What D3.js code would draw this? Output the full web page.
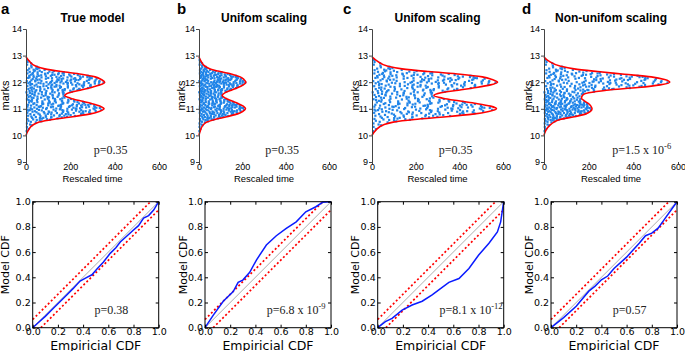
<!DOCTYPE html>
<html>
<head>
<meta charset="utf-8">
<script src="https://cdn.jsdelivr.net/npm/d3@7"></script>
<style>
  body { margin: 0; background: #fff; }
  svg { display: block; }
</style>
</head>
<body>
<div id="chart"></div>
<script>
const W = 685, H = 351;

// ---- data ----
const panelLetters = ["a", "b", "c", "d"];
const panelTitles = ["True model", "Unifom scaling", "Unifom scaling", "Non-unifom scaling"];

const markTicks = [9, 10, 11, 12, 13, 14];
const timeTicks = [0, 200, 400, 600];
const cdfTicks = [0, 0.2, 0.4, 0.6, 0.8, 1.0];

// envelope of the mark intensity (rescaled time) read at these marks
const envMarks = [10.0, 10.2, 10.4, 10.5, 10.6, 10.7, 10.8, 10.9, 11.0, 11.1, 11.2, 11.3, 11.4, 11.5,
  11.6, 11.7, 11.8, 11.9, 12.0, 12.1, 12.2, 12.3, 12.4, 12.5, 12.6, 12.8, 12.95];
const envTrue = [0, 11, 33, 60, 120, 210, 285, 330, 352, 335, 295, 245, 200, 175,
  195, 245, 295, 335, 355, 340, 312, 250, 160, 85, 45, 14, 0];
const envNonUniform = [0, 9, 28, 45, 72, 135, 185, 208, 215, 210, 198, 180, 168, 172,
  200, 280, 420, 520, 563, 540, 480, 360, 240, 135, 75, 20, 0];
// uniform scaling factors of panels b and c
const uniformScale = [1, 0.61, 1.62];

// events: mark (x100) : share of the envelope width (x100)
const eventData = `
1016:35 1024:71 1032:18 1038:84 1041:52 1045:09 1049:77
1051:33 1053:88 1055:12 1057:61 1058:45 1059:94
1060:27 1061:73 1062:05 1063:49 1064:91 1065:38 1066:16 1067:62 1068:84 1069:22 1069:57
1070:43 1070:88 1071:11 1072:67 1072:29 1073:95 1074:04 1075:51 1075:36 1076:79 1077:14 1077:58 1078:92 1078:23 1079:69 1079:41
1080:07 1080:63 1081:34 1081:86 1082:19 1082:55 1083:97 1083:28 1084:71 1084:46 1085:02 1085:83 1086:37 1086:61 1087:15 1087:90 1088:52 1088:25 1089:74 1089:09
1090:31 1090:78 1091:56 1091:12 1092:94 1092:40 1093:67 1093:03 1094:85 1094:21 1095:48 1095:73 1096:17 1096:99 1097:36 1097:60 1098:08 1098:89 1098:44 1099:26 1099:65 1091:81 1095:05
1100:53 1100:14 1101:87 1101:39 1102:70 1102:06 1103:45 1103:96 1104:22 1104:62 1105:11 1105:79 1106:33 1106:91 1107:57 1107:18 1108:84 1108:02 1109:47 1109:68 1103:27 1106:74 1108:36
1110:59 1110:20 1111:93 1111:44 1112:07 1112:76 1113:31 1113:64 1114:15 1114:88 1115:50 1115:03 1116:82 1116:37 1117:24 1117:69 1118:96 1118:11 1119:55 1119:41 1114:72
1120:34 1120:81 1121:13 1121:58 1122:92 1122:26 1123:67 1124:05 1124:49 1125:86 1125:19 1126:40 1126:97 1127:10 1127:63 1128:29 1128:75 1129:52
1130:08 1130:66 1131:43 1131:90 1132:21 1133:57 1134:84 1134:12 1135:38 1136:71 1136:02 1137:95 1138:47 1138:25 1139:80
1140:61 1141:17 1142:89 1142:35 1143:54 1144:06 1145:76 1146:28 1147:93 1148:44 1148:11 1149:68
1150:22 1151:83 1151:50 1152:04 1153:66 1154:39 1155:91 1156:15 1157:58 1157:30 1158:78 1159:09
1160:46 1160:87 1161:20 1162:63 1162:01 1163:34 1164:96 1164:55 1165:13 1166:74 1167:40 1167:07 1168:85 1168:27 1169:60
1170:19 1170:71 1171:48 1171:93 1172:10 1172:57 1173:32 1173:82 1174:04 1174:66 1175:24 1175:89 1176:42 1176:13 1177:77 1178:35 1178:98 1179:53
1180:64 1180:09 1181:38 1181:86 1182:21 1182:52 1183:95 1183:17 1184:73 1184:44 1185:02 1185:60 1186:29 1186:91 1187:47 1187:12 1188:80 1188:35 1189:68 1189:06 1185:25
1190:41 1190:87 1191:14 1191:62 1192:30 1192:97 1193:55 1193:08 1194:76 1194:23 1195:49 1195:90 1196:03 1196:67 1197:37 1197:81 1198:16 1198:58 1199:44 1199:99 1192:71 1196:19 1198:31
1200:26 1200:74 1201:51 1201:05 1202:88 1202:39 1203:63 1203:12 1204:95 1204:46 1205:20 1205:79 1206:34 1206:58 1207:07 1207:91 1208:43 1208:69 1209:15 1209:83 1201:32 1204:01 1207:54
1210:60 1210:18 1211:85 1211:42 1212:09 1212:73 1213:27 1213:96 1214:51 1214:14 1215:68 1215:36 1216:90 1216:03 1217:47 1217:77 1218:22 1218:59 1219:11 1219:88 1213:65 1216:31
1220:44 1220:92 1221:16 1221:67 1222:30 1222:81 1223:05 1223:54 1224:39 1224:97 1225:12 1225:71 1226:25 1226:62 1227:87 1228:08 1228:49 1229:34 1229:76
1230:58 1230:21 1231:90 1232:37 1233:03 1233:74 1234:46 1235:15 1235:83 1236:61 1237:28 1238:95 1238:40 1239:10
1240:66 1241:24 1242:87 1243:45 1245:06 1246:73 1247:32 1249:55
1251:18 1253:79 1256:41 1258:93 1262:57 1266:14 1271:82 1276:36 1284:48
1066:45 1074:72 1082:88 1087:33 1093:50 1097:02 1101:64 1104:92 1108:17 1112:46 1115:85 1119:26
1123:38 1127:84 1133:05 1137:61 1142:13 1145:52 1153:21 1158:47 1162:81 1166:19 1171:66 1174:91
1179:07 1183:42 1187:78 1191:35 1194:06 1197:54 1200:93 1203:40 1206:12 1209:66 1212:48 1215:91
1218:05 1221:84 1224:20 1227:44 1231:12 1234:69 1244:31 1252:60`;

const topP = ["p=0.35", "p=0.35", "p=0.35", "p=1.5 x 10"];
const topPExp = [null, null, null, "-6"];

// KS plots: empirical CDF vs model CDF
const empA = [0, .05, .1, .15, .19, .23, .27, .32, .376, .43, .47, .51, .56, .615, .66, .695, .75, .8, .84, .88, .92, .96, 1];
const modA = [0, .045, .09, .14, .18, .22, .26, .31, .37, .40, .42, .466, .52, .59, .635, .68, .73, .775, .81, .87, .89, .934, 1];
const empB = [0, .066, .145, .224, .263, .30, .355, .408, .487, .566, .645, .724, .80, .88, .934, 1];
const modB = [0, .10, .21, .286, .36, .378, .44, .537, .656, .73, .788, .84, .92, .96, .995, 1];
const empC = [0, .061, .114, .194, .273, .353, .432, .485, .565, .645, .724, .80, .883, .95, .976, 1];
const modC = [0, .048, .074, .14, .18, .21, .26, .30, .36, .39, .47, .575, .67, .76, .84, 1];
const empD = [0, .1, .2, .3, .35, .4, .45, .5, .6, .7, .75, .8, .85, .9, .95, 1];
const modD = [0, .08, .17, .29, .33, .38, .41, .47, .56, .67, .73, .75, .79, .86, .93, 1];
const ksBand = 0.065;

const botP = ["p=0.38", "p=6.8 x 10", "p=8.1 x 10", "p=0.57"];
const botPExp = [null, "-9", "-12", null];

// ---- layout ----
const topLefts = [26, 199, 372, 544];
const topWidths = [133, 130, 131, 134];
const TOP = { top: 29, bottom: 162 };
const botLefts = [32.7, 205, 377.7, 551];
const BOT = { top: 201.7, size: 126 };
const letterX = [1, 177, 343, 522];
const marksLabelX = [8.5, 185, 358.5, 532];
const cdfLabelX = [9, 187, 359, 533];

const SANS = "'Liberation Sans', Arial, sans-serif";
const DEJAVU = "'DejaVu Sans', sans-serif";
const SERIF = "'Liberation Serif', 'Times New Roman', serif";
const dotColor = "#1f84e8";

const events = eventData.trim().split(/\s+/).map((s) => ({
  mark: +s.slice(0, 4) / 100,
  share: +s.slice(5) / 100,
}));

const envelopes = [
  envTrue,
  envTrue.map((v) => v * uniformScale[1]),
  envTrue.map((v) => v * uniformScale[2]),
  envNonUniform,
];
const ksData = [[empA, modA], [empB, modB], [empC, modC], [empD, modD]];

const svg = d3.select("#chart").append("svg")
  .attr("width", W).attr("height", H)
  .style("font-family", SANS);

function addP(g, x, y, text, exp) {
  const t = g.append("text")
    .attr("x", x).attr("y", y)
    .style("font-family", SERIF).style("font-size", "12px").style("fill", "#222")
    .text(text);
  if (exp) {
    t.append("tspan").attr("dy", -5).style("font-size", "8.5px").text(exp);
  }
}

panelLetters.forEach((letter, i) => {
  // ================= top: marks vs rescaled time =================
  const g = svg.append("g");
  const x = d3.scaleLinear().domain([0, 600]).range([topLefts[i], topLefts[i] + topWidths[i]]);
  const y = d3.scaleLinear().domain([9, 14]).range([TOP.bottom, TOP.top]);
  const env = envelopes[i];
  const envAt = d3.scaleLinear().domain(envMarks).range(env).clamp(true);

  g.append("g")
    .selectAll("rect")
    .data(events)
    .join("rect")
    .attr("x", (d) => x(d.share * envAt(d.mark)) - 1.1)
    .attr("y", (d) => y(d.mark) - 1.1)
    .attr("width", 2.2)
    .attr("height", 2.2)
    .attr("fill", dotColor);

  const envLine = d3.line()
    .x((d) => x(d[1]))
    .y((d) => y(d[0]))
    .curve(d3.curveMonotoneY);

  g.append("path")
    .datum(envMarks.map((m, k) => [m, env[k]]))
    .attr("d", envLine)
    .attr("fill", "none")
    .attr("stroke", "#ff0000")
    .attr("stroke-width", 1.6);

  g.append("g")
    .attr("transform", `translate(${topLefts[i]},0)`)
    .call(d3.axisLeft(y).tickValues(markTicks).tickFormat(d3.format("d")).tickSize(3).tickPadding(1))
    .call((a) => {
      a.select(".domain").attr("stroke", "#444");
      a.selectAll("text").style("font-family", SANS).style("font-size", "9px").attr("fill", "#000");
      a.selectAll(".tick line").attr("stroke", "#444");
    });

  g.append("g")
    .attr("transform", `translate(0,${TOP.bottom})`)
    .call(d3.axisBottom(x).tickValues(timeTicks).tickSize(2).tickPadding(0))
    .call((a) => {
      a.select(".domain").remove();
      a.selectAll("text").style("font-family", SANS).style("font-size", "9px").attr("fill", "#000");
      a.selectAll(".tick line").attr("stroke", "#444");
    });

  const cx = topLefts[i] + topWidths[i] / 2;
  g.append("text")
    .attr("x", cx).attr("y", 182)
    .attr("text-anchor", "middle")
    .style("font-size", "9.5px")
    .text("Rescaled time");

  g.append("text")
    .attr("transform", `translate(${marksLabelX[i]},${(TOP.top + TOP.bottom) / 2}) rotate(-90)`)
    .attr("text-anchor", "middle")
    .style("font-size", "11px")
    .text("marks");

  g.append("text")
    .attr("x", cx).attr("y", 21.5)
    .attr("text-anchor", "middle")
    .style("font-size", "12px")
    .style("font-weight", "bold")
    .text(panelTitles[i]);

  g.append("text")
    .attr("x", letterX[i]).attr("y", 13.6)
    .style("font-size", "15px")
    .style("font-weight", "bold")
    .text(letter);

  addP(g, x(306), y(9.3), topP[i], topPExp[i]);

  // ================= bottom: KS plot =================
  const b = svg.append("g");
  const bx = d3.scaleLinear().domain([0, 1]).range([botLefts[i], botLefts[i] + BOT.size]);
  const by = d3.scaleLinear().domain([0, 1]).range([BOT.top + BOT.size, BOT.top]);

  // diagonal
  b.append("line")
    .attr("x1", bx(0)).attr("y1", by(0)).attr("x2", bx(1)).attr("y2", by(1))
    .attr("stroke", "#8a8a8a").attr("stroke-width", 0.7);

  // confidence bounds
  [[[0, ksBand], [1 - ksBand, 1]], [[ksBand, 0], [1, 1 - ksBand]]].forEach((seg) => {
    b.append("line")
      .attr("x1", bx(seg[0][0])).attr("y1", by(seg[0][1]))
      .attr("x2", bx(seg[1][0])).attr("y2", by(seg[1][1]))
      .attr("stroke", "#ff0000").attr("stroke-width", 1.7)
      .attr("stroke-dasharray", "2,2.3");
  });

  const [emp, mod] = ksData[i];
  b.append("path")
    .datum(emp.map((e, k) => [e, mod[k]]))
    .attr("d", d3.line().x((d) => bx(d[0])).y((d) => by(d[1])))
    .attr("fill", "none")
    .attr("stroke", "#0a1bff")
    .attr("stroke-width", 1.5);

  // axes (ticks inward, box frame)
  const fmt = d3.format(".1f");
  b.append("g")
    .attr("transform", `translate(0,${by(0)})`)
    .call(d3.axisBottom(bx).tickValues(cdfTicks).tickFormat(fmt).tickSize(-3).tickPadding(1))
    .call((a) => a.select(".domain").remove());
  b.append("g")
    .attr("transform", `translate(${bx(0)},0)`)
    .call(d3.axisLeft(by).tickValues(cdfTicks).tickFormat(fmt).tickSize(-3).tickPadding(2))
    .call((a) => a.select(".domain").remove());
  b.append("g")
    .attr("transform", `translate(0,${by(1)})`)
    .call(d3.axisTop(bx).tickValues(cdfTicks).tickSize(-3))
    .call((a) => { a.select(".domain").remove(); a.selectAll("text").remove(); });
  b.append("g")
    .attr("transform", `translate(${bx(1)},0)`)
    .call(d3.axisRight(by).tickValues(cdfTicks).tickSize(-3))
    .call((a) => { a.select(".domain").remove(); a.selectAll("text").remove(); });
  b.selectAll(".tick text")
    .style("font-family", DEJAVU).style("font-size", "9.5px").attr("fill", "#000");

  b.append("rect")
    .attr("x", bx(0)).attr("y", by(1))
    .attr("width", BOT.size).attr("height", BOT.size)
    .attr("fill", "none").attr("stroke", "#000").attr("stroke-width", 1);

  b.append("text")
    .attr("x", bx(0.5)).attr("y", 349.5)
    .attr("text-anchor", "middle")
    .style("font-family", DEJAVU).style("font-size", "12.5px")
    .text("Empiricial CDF");

  b.append("text")
    .attr("transform", `translate(${cdfLabelX[i]},${by(0.5)}) rotate(-90)`)
    .attr("text-anchor", "middle")
    .style("font-family", DEJAVU).style("font-size", "11px")
    .text("Model CDF");

  addP(b, bx(0.49), by(0.105), botP[i], botPExp[i]);
});
</script>
</body>
</html>
